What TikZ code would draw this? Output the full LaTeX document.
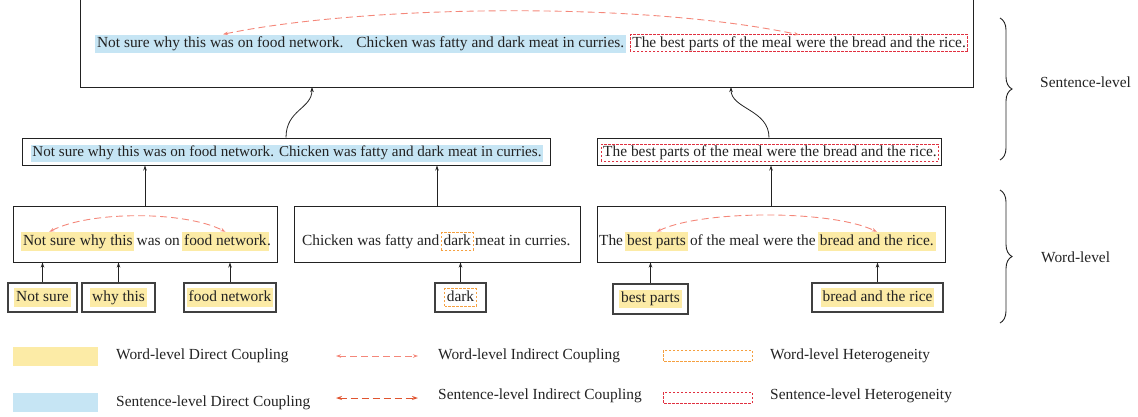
\documentclass[tikz,border=0pt]{standalone}
\usepackage{fontspec}
\setmainfont{Liberation Serif}
\usetikzlibrary{arrows.meta,fit,decorations.pathreplacing}
\definecolor{hly}{HTML}{FCEBA6}
\definecolor{hlb}{HTML}{C6E5F4}
\definecolor{wic}{HTML}{F4877A}
\definecolor{sic}{HTML}{E0542F}
\definecolor{who}{HTML}{F5A040}
\definecolor{she}{HTML}{E03040}
\definecolor{ink}{HTML}{222222}
\tikzset{
  every node/.style={font=\fontsize{15.4}{17}\selectfont, text=ink},
  seg/.style={inner xsep=1.9pt, inner ysep=0pt, text height=13pt, text depth=5.5pt, anchor=base west},
  hy/.style={seg, fill=hly},
  hb/.style={seg, fill=hlb},
  wdash/.style={seg, text height=12pt, text depth=5pt},
  sdash/.style={seg, text height=12pt, text depth=4.5pt},
  wdline/.style={draw=who, dash pattern=on 2.5pt off 1.5pt, line width=1pt},
  sdline/.style={draw=she, dash pattern=on 2.5pt off 1.5pt, line width=1pt},
  frame/.style={draw=ink, line width=1pt, inner sep=0pt},
  wframe/.style={draw=black!75, line width=1.4pt, inner sep=0pt},
  up/.style={-{Stealth[length=5pt,width=3.5pt]}, draw=ink, line width=0.8pt},
  wi/.style={{Stealth[length=5pt,width=3.5pt]}-{Stealth[length=5pt,width=3.5pt]}, draw=wic, dash pattern=on 7pt off 4pt, line width=0.9pt},
  si/.style={{Stealth[length=6pt,width=4pt]}-{Stealth[length=6pt,width=4pt]}, draw=sic, dash pattern=on 7pt off 4pt, line width=1pt},
  lab/.style={anchor=west, inner sep=0pt},
  br/.style={decorate, decoration={brace, amplitude=12pt}, draw=ink, line width=0.9pt}
}
\begin{document}
\begin{tikzpicture}[x=1pt,y=1pt]
\useasboundingbox (0,0) rectangle (1138,-416);

% ---------- top (sentence-level document) ----------
\node[frame, minimum width=893pt, minimum height=97pt] (top) at (526.5,-38.5) {};
\node[hb, text height=12.5pt, text depth=6pt] (tbl) at (95,-47) {Not sure why this was on food network.\hspace{13pt}Chicken was fatty and dark meat in curries.};
\node[sdash] (trd) at ([xshift=4pt]tbl.base east) {The best parts of the meal were the bread and the rice.};
\draw[sdline] (trd.south west) rectangle (trd.north east);
\coordinate (tarcl) at ([xshift=128pt]tbl.north west);
\draw[wi] (tarcl) .. controls +(140,29) and +(-160,34) .. (trd.north);

% ---------- sentence row ----------
\node[frame, minimum width=528pt, minimum height=27pt] (s1) at (286,-151.5) {};
\node[hb, anchor=base, text height=12pt, text depth=5pt, font=\fontsize{15.1}{17}\selectfont] (s1t) at (287,-156.5) {Not sure why this was on food network. Chicken was fatty and dark meat in curries.};
\node[frame, minimum width=344pt, minimum height=27pt] (s2) at (769,-151.5) {};
\node[sdash, anchor=base] (s2t) at (770,-156.5) {The best parts of the meal were the bread and the rice.};
\draw[sdline] (s2t.south west) rectangle (s2t.north east);

\coordinate (tin1) at (312,-87);
\coordinate (tin2) at (731,-87);
\draw[up] (s1.north) .. controls +(0,28) and +(0,-22) .. (tin1);
\draw[up] (s2.north) .. controls +(0,28) and +(0,-22) .. (tin2);

% ---------- word row ----------
\node[frame, minimum width=264pt, minimum height=56pt] (w1) at (145,-234) {};
\node[hy] (ns) at (21,-245) {Not sure};
\node[hy] (wt) at (ns.base east) {why this};
\node[seg] (wo) at (wt.base east) {was on};
\node[hy] (fn) at (wo.base east) {food network};
\node[seg, inner xsep=0pt] (p1) at ([xshift=-1.9pt]fn.base east) {.};
\draw[wi] (ns.north) .. controls +(40,21) and +(-40,21) .. (fn.north);

\node[frame, minimum width=286pt, minimum height=56pt] (w2) at (437,-234) {};
\node[seg] (ch) at (300,-245) {Chicken was fatty and};
\node[wdash] (dk) at (ch.base east) {dark};
\draw[wdline] (dk.south west) rectangle (dk.north east);
\node[seg] (mt) at (dk.base east) {meat in curries.};

\node[frame, minimum width=348pt, minimum height=56pt] (w3) at (771,-234) {};
\node[seg] (the) at (597,-245) {The};
\node[hy] (bp) at (the.base east) {best parts};
\node[seg] (om) at (bp.base east) {of the meal were the};
\node[hy] (br) at (om.base east) {bread and the rice.};
\draw[wi] (bp.north) .. controls +(45,22) and +(-45,22) .. (br.north);

\draw[up] (w1.north) -- (w1.north |- s1.south);
\draw[up] (w2.north) -- (w2.north |- s1.south);
\draw[up] (w3.north) -- (w3.north |- s2.south);

% ---------- phrase row ----------
\node[wframe, minimum width=69pt, minimum height=29pt] (b1) at (42.5,-297.5) {};
\node[hy, anchor=center] at (b1.center) {Not sure};
\node[wframe, minimum width=73pt, minimum height=29pt] (b2) at (118.5,-297.5) {};
\node[hy, anchor=center] at (b2.center) {why this};
\node[wframe, minimum width=92pt, minimum height=29pt] (b3) at (230,-297.5) {};
\node[hy, anchor=center] at (b3.center) {food network};
\node[wframe, minimum width=51pt, minimum height=29pt] (b4) at (460.5,-297.5) {};
\node[wdash, anchor=center] (b4t) at (b4.center) {dark};
\draw[wdline] (b4t.south west) rectangle (b4t.north east);
\node[wframe, minimum width=75pt, minimum height=30pt] (b5) at (650.5,-299) {};
\node[hy, anchor=center] at (b5.center) {best parts};
\node[wframe, minimum width=131pt, minimum height=29pt] (b6) at (877.5,-297.5) {};
\node[hy, anchor=center] at (b6.center) {bread and the rice};

\draw[up] (b1.north) -- (b1.north |- w1.south);
\draw[up] (b2.north) -- (b2.north |- w1.south);
\draw[up] (b3.north) -- (b3.north |- w1.south);
\draw[up] (b4.north) -- (b4.north |- w2.south);
\draw[up] (b5.north) -- (b5.north |- w3.south);
\draw[up] (b6.north) -- (b6.north |- w3.south);

% ---------- braces ----------
\draw[br] (1000,-18) -- (1000,-160);
\node[lab] (lsl) at (1040,-82) {Sentence-level};
\draw[br] (1000,-190) -- (1000,-323);
\node[lab] (lwl) at (1041,-257) {Word-level};

% ---------- legend ----------
\fill[hly] (13,-347) rectangle (98,-366);
\node[lab] (l1) at (116,-356) {Word-level Direct Coupling};
\fill[hlb] (13,-393) rectangle (98,-412);
\node[lab] (l2) at (116,-403) {Sentence-level Direct Coupling};
\coordinate (a1) at (336,-356); \coordinate (a2) at (418,-356);
\draw[wi] (a1) -- (a2);
\node[lab] (l3) at (438,-356) {Word-level Indirect Coupling};
\coordinate (a3) at (336,-398); \coordinate (a4) at (418,-398);
\draw[si] (a3) -- (a4);
\node[lab] (l4) at (438,-396) {Sentence-level Indirect Coupling};
\draw[wdline] (663,-350) rectangle (752,-361);
\node[lab] (l5) at (770,-356) {Word-level Heterogeneity};
\draw[sdline] (663,-392) rectangle (752,-403);
\node[lab] (l6) at (770,-396) {Sentence-level Heterogeneity};
\end{tikzpicture}
\end{document}
